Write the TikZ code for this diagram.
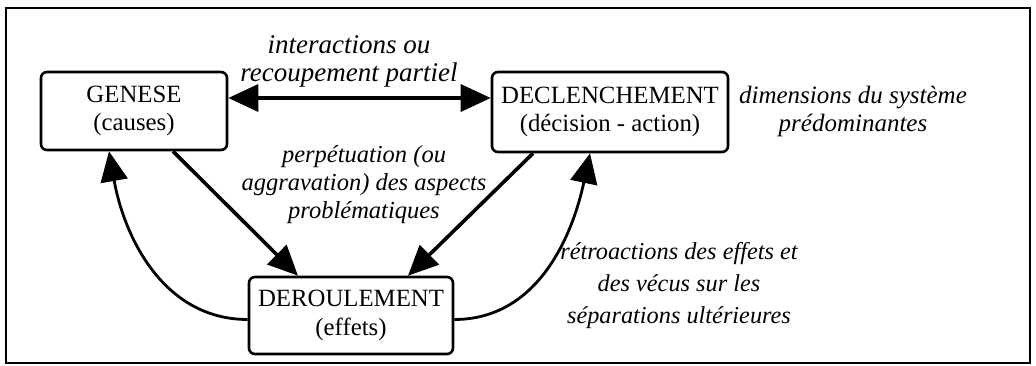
\documentclass[tikz,border=0pt]{standalone}
\usepackage{fontspec}
\setmainfont{Liberation Serif}
\usetikzlibrary{arrows.meta}
\begin{document}
\begin{tikzpicture}[x=1pt,y=1pt,
  box/.style={draw,line width=2.6pt,rounded corners=6pt,align=center,
    inner sep=0pt,font=\fontsize{24.8}{28.5}\selectfont},
  lbl/.style 2 args={align=center,font=\fontsize{#1}{#2}\selectfont\itshape},
  big/.style={-{Triangle[length=30pt,width=27pt]}},
  thick line/.style={line width=3.6pt},
  thin line/.style={line width=2.8pt}]
\useasboundingbox (0,0) rectangle (1036,-366);
% outer frame
\draw[line width=2pt] (6,-8) rectangle (1030,-363);

% the three phases
\node[box,minimum width=186pt,minimum height=78pt] (genese) at (134,-111)
  {GENESE\\(causes)};
\node[box,minimum width=236pt,minimum height=80pt] (declen) at (610,-112)
  {DECLENCHEMENT\\(décision - action)};
\node[box,minimum width=204pt,minimum height=77pt] (deroul) at (351,-315.5)
  {DEROULEMENT\\(effets)};

% labels
\node[lbl={27}{28}] (linter) at (349,-61) {interactions ou\\recoupement partiel};
\node[lbl={24.5}{28}] (lperp) at (364,-185) {perpétuation (ou\\aggravation) des aspects\\problématiques};
\node[lbl={25}{28}] (ldim) at (853,-111) {dimensions du système\\prédominantes};
\node[lbl={24.3}{32}] (lretro) at (679,-286)
  {rétroactions des effets et\\des vécus sur les\\séparations ultérieures};

% connectors
\draw[thick line,{Triangle[length=30pt,width=27pt]}-{Triangle[length=30pt,width=27pt]}]
  ([yshift=13pt]genese.east) -- ([yshift=14pt]declen.west);
\draw[thick line,big] ([xshift=39pt]genese.south) -- ([xshift=-53pt]deroul.north);
\draw[thick line,big] ([xshift=-77pt]declen.south) -- ([xshift=57pt]deroul.north);
\draw[thin line,big] ([yshift=-4pt]deroul.west) to[out=180,in=-80]
  ([xshift=-25pt]genese.south);
\draw[thin line,big] ([yshift=-4pt]deroul.east) to[out=0,in=-102]
  ([xshift=-20pt]declen.south);
\end{tikzpicture}
\end{document}
